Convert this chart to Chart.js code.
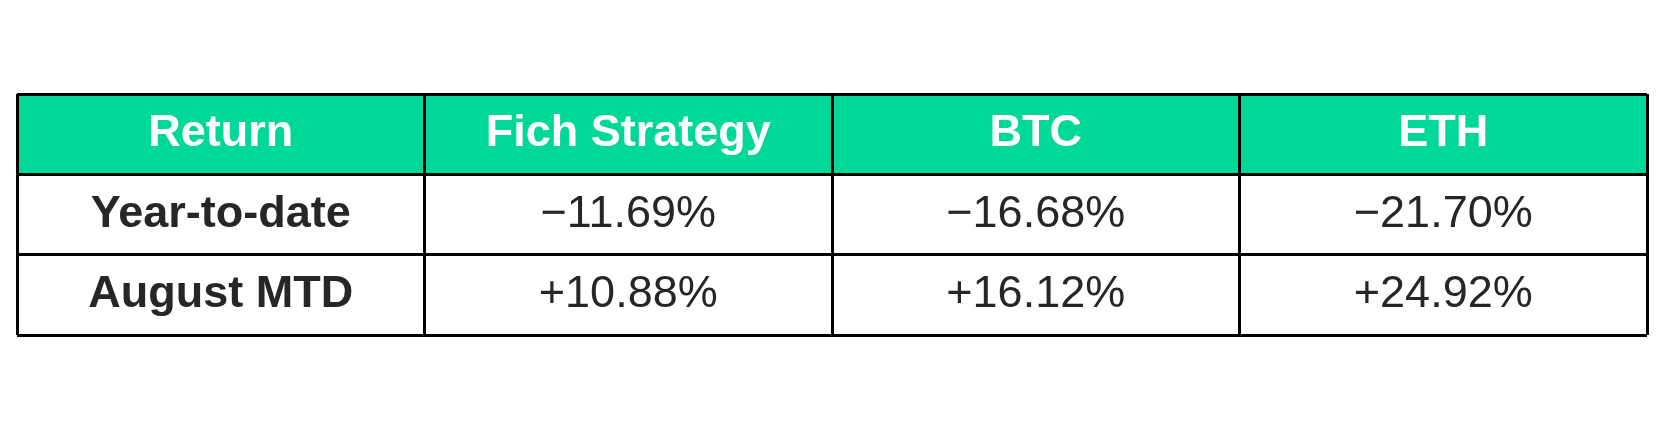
<!DOCTYPE html>
<html>
<head>
<meta charset="utf-8">
<title>Returns table</title>
<script src="https://cdn.jsdelivr.net/npm/chart.js@4"></script>
<style>
  html, body { margin: 0; padding: 0; background: #fff; }
  #wrap { width: 1663px; height: 428px; }
</style>
</head>
<body>
<div id="wrap"><canvas id="tbl"></canvas></div>
<script>
/* ── Data ─────────────────────────────────────────────────── */
const columns   = ['Return', 'Fich Strategy', 'BTC', 'ETH'];
const rowLabels = ['Year-to-date', 'August MTD'];
const ytd       = ['\u221211.69%', '\u221216.68%', '\u221221.70%'];
const mtd       = ['+10.88%', '+16.12%', '+24.92%'];

const rows = [ytd, mtd];

/* ── Styles ───────────────────────────────────────────────── */
const GREEN = '#00d898';
const INK   = '#262626';
const LINE  = '#000000';
const FONT  = '"Liberation Sans", Arial, sans-serif';

/* header fill: one floating bar per column spanning row 0..1 */
const headerBars = columns.map((_, i) => ({ x: i + 0.5, y: [0, 1] }));

/* ── Cell text plugin ─────────────────────────────────────── */
const cellText = {
  id: 'cellText',
  afterDraw(chart) {
    const { ctx, scales: { x, y } } = chart;
    const cx = i => x.getPixelForValue(i + 0.5);
    const cy = r => (y.getPixelForValue(r) + y.getPixelForValue(r + 1)) / 2 + 12;
    ctx.save();
    ctx.textAlign = 'center';
    ctx.textBaseline = 'alphabetic';

    ctx.fillStyle = '#ffffff';
    ctx.font = 'bold 45px ' + FONT;
    columns.forEach((c, i) => ctx.fillText(c, cx(i), cy(0)));

    ctx.fillStyle = INK;
    rowLabels.forEach((lab, r) => ctx.fillText(lab, cx(0), cy(r + 1)));

    ctx.font = '45px ' + FONT;
    rows.forEach((vals, r) => {
      vals.forEach((v, i) => ctx.fillText(v, cx(i + 1), cy(r + 1)));
    });
    ctx.restore();
  }
};

new Chart(document.getElementById('tbl'), {
  type: 'bar',
  data: {
    datasets: [{
      data: headerBars,
      backgroundColor: GREEN,
      borderWidth: 0,
      barPercentage: 1,
      categoryPercentage: 1
    }]
  },
  options: {
    responsive: true,
    maintainAspectRatio: false,
    animation: false,
    events: [],
    layout: { padding: { left: 17, right: 16, top: 94, bottom: 93 } },
    plugins: { legend: { display: false }, tooltip: { enabled: false } },
    scales: {
      x: {
        type: 'linear', min: 0, max: 4, offset: false,
        ticks: { display: false, stepSize: 1 },
        grid: { color: LINE, lineWidth: 3, drawTicks: false, offset: false, z: 1 },
        border: { display: false }
      },
      y: {
        type: 'linear', min: 0, max: 3, reverse: true,
        ticks: { display: false, stepSize: 1 },
        grid: { color: LINE, lineWidth: 3, drawTicks: false, z: 1 },
        border: { display: false }
      }
    }
  },
  plugins: [cellText]
});
</script>
</body>
</html>
